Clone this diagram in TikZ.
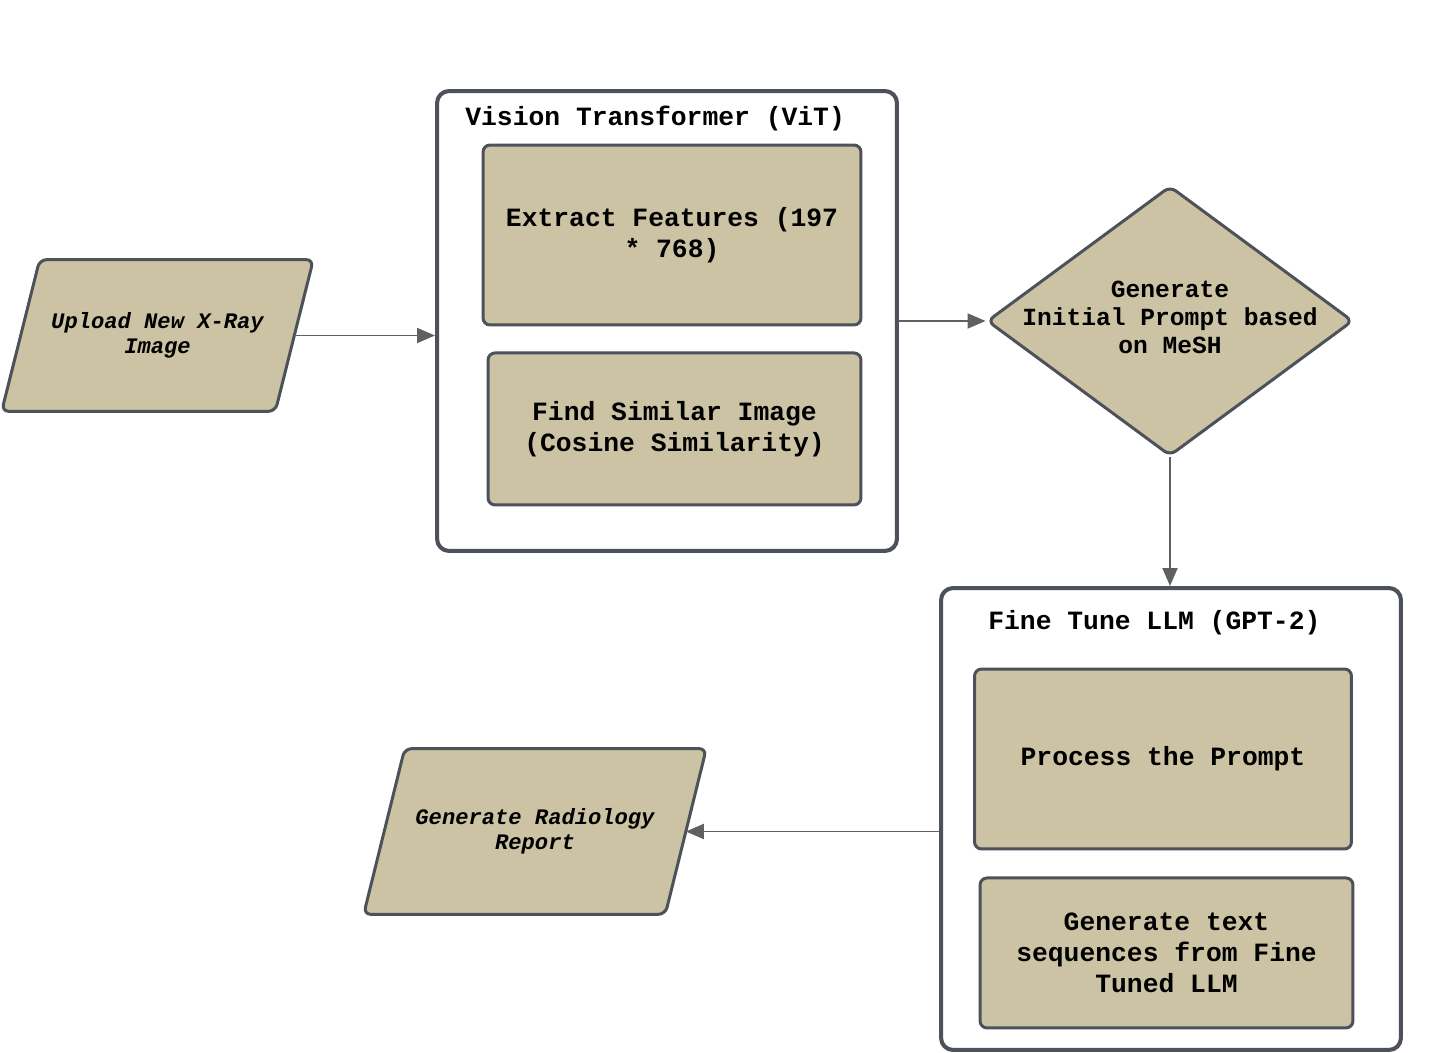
\documentclass[tikz,border=0pt]{standalone}
\usepackage{fontspec}
\setmonofont{Liberation Mono}
\usetikzlibrary{positioning}
\usetikzlibrary{arrows.meta}
\usetikzlibrary{shapes.geometric}
\usetikzlibrary{backgrounds}
\definecolor{khaki}{RGB}{203,195,163}
\definecolor{slate}{RGB}{76,81,90}
\definecolor{wire}{RGB}{96,96,96}

\begin{document}
\begin{tikzpicture}[x=0.02cm, y=-0.02cm, >={Triangle[length=0.36cm,width=0.3cm]},
  group node/.style={rectangle,draw=slate,line width=2.3pt,rounded corners=0.24cm,fill=white},
  group title/.style={font=\ttfamily\bfseries\fontsize{15}{18}\selectfont,inner sep=0pt},
  inner node/.style={rectangle,draw=slate,line width=1.7pt,rounded corners=0.14cm,fill=khaki,
                     align=center,font=\ttfamily\bfseries\fontsize{15}{17.6}\selectfont},
  io node/.style={rectangle,align=center,font=\ttfamily\bfseries\itshape\fontsize{12.6}{14.2}\selectfont},
  io shape/.style={draw=slate,line width=1.7pt,rounded corners=0.14cm,fill=khaki},
  choice node/.style={diamond,draw=slate,line width=1.7pt,rounded corners=0.14cm,fill=khaki,inner sep=0pt},
  choice text/.style={align=center,font=\ttfamily\bfseries\fontsize{14}{16}\selectfont},
  flow/.style={->,draw=wire,line width=1.1pt}]
\useasboundingbox (0,0) rectangle (1430,1053);

% groups
\node[group node, minimum width=9.2cm, minimum height=9.2cm] (vit) at (667,321) {};
\node[group title, anchor=west] (vittitle) at (465,119) {Vision Transformer (ViT)};
\node[group node, minimum width=9.2cm, minimum height=9.24cm] (llm) at (1171,819) {};
\node[group title, anchor=west] (llmtitle) at (988,623) {Fine Tune LLM (GPT-2)};

% steps
\node[io node, minimum width=5.46cm, minimum height=3.02cm] (upload) at (157.5,335.5) {Upload New X-Ray\\Image};
\node[inner node, minimum width=7.56cm, minimum height=3.6cm] (extract) at (672,235) {Extract Features (197\\* 768)};
\node[inner node, minimum width=7.46cm, minimum height=3.04cm, below=0.5cm of extract.south, anchor=north, xshift=0.05cm] (similar) {Find Similar Image\\(Cosine Similarity)};
\node[choice node, minimum width=7.32cm, minimum height=5.4cm,
      label={[choice text, yshift=0.07cm]center:{Generate\\Initial Prompt based\\on MeSH}}] (prompt) at (1170,321) {};
\node[inner node, minimum width=7.54cm, minimum height=3.6cm] (process) at (1163,759) {Process the Prompt};
\node[inner node, minimum width=7.46cm, minimum height=3.0cm, below=0.52cm of process.south, anchor=north, xshift=0.07cm] (textgen) {Generate text\\sequences from Fine\\Tuned LLM};
\node[io node, minimum width=6.02cm, minimum height=3.3cm] (report) at (535,831.5) {Generate Radiology\\Report};

% slanted input/output outlines
\begin{scope}[on background layer]
\foreach \n/\s in {upload/0.38cm, report/0.41cm}
  \draw[io shape] ([xshift=\s]\n.north west) -- ([xshift=\s]\n.north east)
    -- ([xshift=-\s]\n.south east) -- ([xshift=-\s]\n.south west) -- cycle;
\end{scope}

% connectors
\draw[flow] (upload.east) -- (upload.east -| vit.west);
\draw[flow] (vit.east) -- (prompt.west);
\draw[flow] (prompt.south) -- (prompt.south |- llm.north);
\draw[flow] (llm.west |- report.east) -- (report.east);
\end{tikzpicture}
\end{document}
